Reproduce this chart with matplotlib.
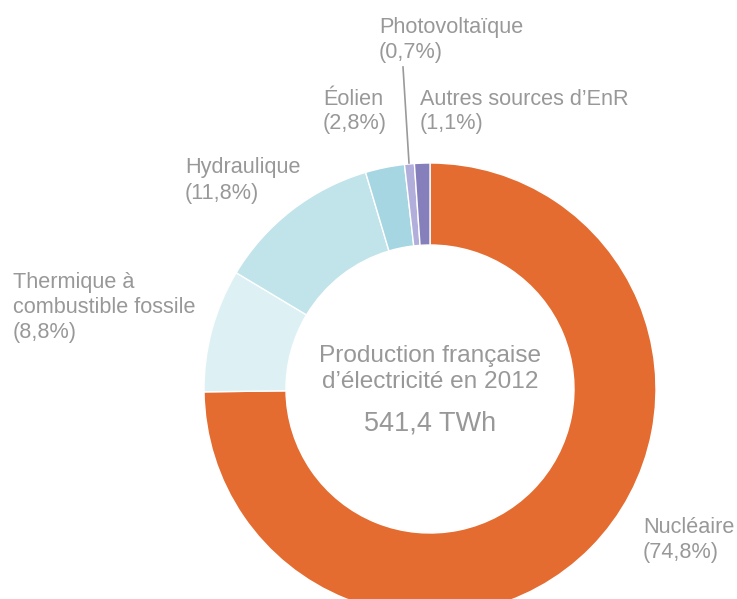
import matplotlib
matplotlib.use("Agg")
import matplotlib.pyplot as plt

categories = ["Nucléaire", "Thermique à combustible fossile", "Hydraulique",
              "Éolien", "Photovoltaïque", "Autres sources d’EnR"]
shares = [74.8, 8.8, 11.8, 2.8, 0.7, 1.1]
colors = ["#E46C30", "#DDF1F5", "#C1E3EA", "#A6D6E2", "#B2AEDC", "#8580BC"]
label_lines = [
    ["Nucléaire", "(74,8%)"],
    ["Thermique à", "combustible fossile", "(8,8%)"],
    ["Hydraulique", "(11,8%)"],
    ["Éolien", "(2,8%)"],
    ["Photovoltaïque", "(0,7%)"],
    ["Autres sources d’EnR", "(1,1%)"],
]
center_lines = ["Production française", "d’électricité en 2012"]
total_label = "541,4 TWh"

W, H = 737, 599
fig = plt.figure(figsize=(W / 100, H / 100), dpi=100)
ax = fig.add_axes([0, 0, 1, 1])

def Y(py):
    return H - py

cx, cy = 430, Y(389)
R = 226
ring = 82

ax.pie(shares, colors=colors, startangle=90, counterclock=False,
       radius=R, center=(cx, cy),
       wedgeprops=dict(width=ring, edgecolor="white", linewidth=1.0))
ax.set_xlim(0, W)
ax.set_ylim(0, H)
ax.set_aspect("equal")
ax.axis("off")

txt_color = "#989898"
font = "Liberation Sans"
fs = 15.6

# label anchor: (left x, first baseline y) in pixels, line spacing
anchors = [
    (643, 533.3, 24.4),
    (13, 288.3, 24.7),
    (185, 173.3, 25.5),
    (323, 105.0, 24.3),
    (379, 33.3, 25.0),
    (420, 105.0, 24.3),
]
for lines, (x0, b0, sp) in zip(label_lines, anchors):
    for i, line in enumerate(lines):
        ax.text(x0, Y(b0 + i * sp), line, ha="left", va="baseline",
                fontsize=fs, color=txt_color, family=font)

# leader line for Photovoltaïque
ax.plot([403, 409], [Y(67), Y(163)], color="#9a9a9a", linewidth=1.2)

# center text
ax.text(cx, Y(361.7), center_lines[0], ha="center", va="baseline",
        fontsize=17.6, color=txt_color, family=font)
ax.text(cx, Y(388.5), center_lines[1], ha="center", va="baseline",
        fontsize=17.6, color=txt_color, family=font)
ax.text(cx, Y(430), total_label, ha="center", va="baseline",
        fontsize=19.5, color=txt_color, family=font)

fig.savefig("out.png", dpi=100, facecolor="white")
